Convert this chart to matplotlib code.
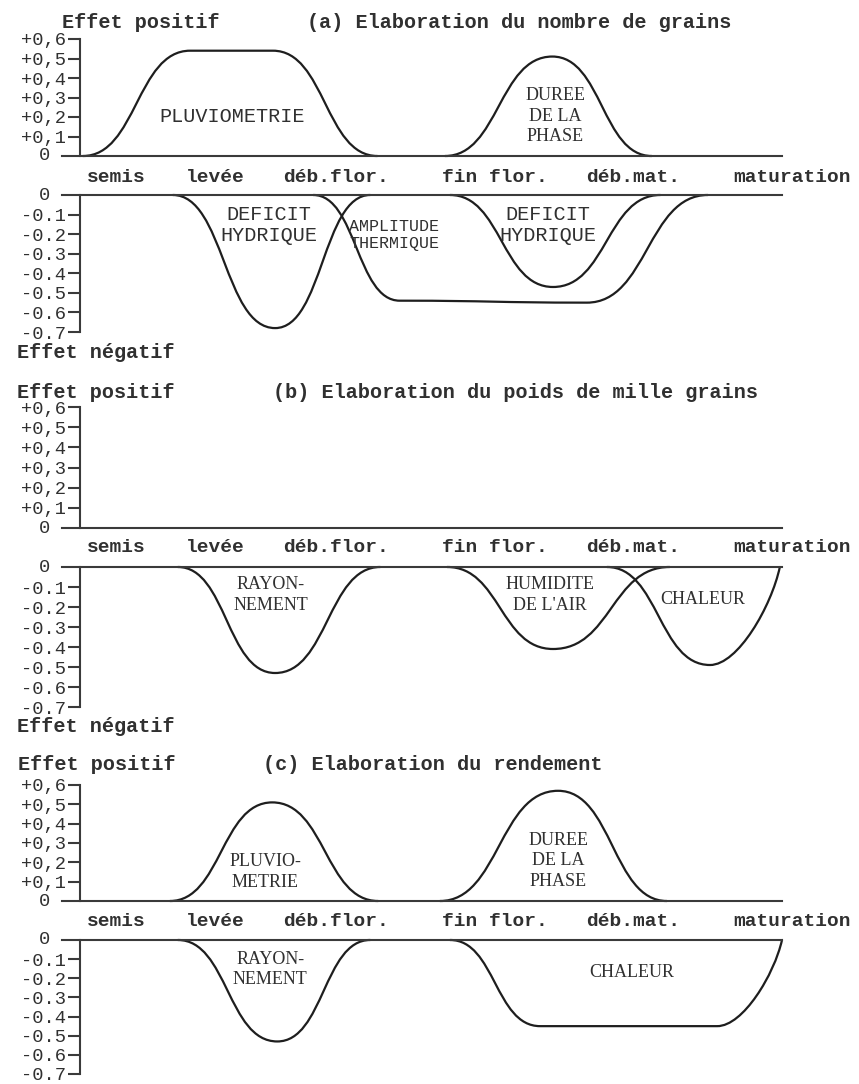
import matplotlib
matplotlib.use('Agg')
import matplotlib.pyplot as plt
from matplotlib.path import Path
from matplotlib.patches import PathPatch
from matplotlib.transforms import blended_transform_factory

plt.rcParams['font.family'] = ['Liberation Mono', 'DejaVu Sans Mono']

W, H = 859, 1084
ink = '#1e1e1e'
txt = '#303030'

# stades du cycle, sur une echelle de temps relative 0-100
stades = ['semis', 'levée', 'déb.flor.', 'fin flor.', 'déb.mat.', 'maturation']
stades_x = [7.6, 21.3, 38.1, 60.1, 79.3, 101.4]

pos_ticks = [0.1, 0.2, 0.3, 0.4, 0.5, 0.6]
pos_labels = ['+0,1', '+0,2', '+0,3', '+0,4', '+0,5', '+0,6']
neg_ticks = [-0.1, -0.2, -0.3, -0.4, -0.5, -0.6, -0.7]
neg_labels = ['-0.1', '-0.2', '-0.3', '-0.4', '-0.5', '-0.6', '-0.7']

titres = ['(a) Elaboration du nombre de grains',
          '(b) Elaboration du poids de mille grains',
          '(c) Elaboration du rendement']

# (a) nombre de grains
a_pluvio_x = [2.9, 17.8, 29.3, 43.8]
a_pluvio_y = [0, 0.54, 0.54, 0]
a_duree_x = [53.2, 68.1, 81.9]
a_duree_y = [0, 0.51, 0]
a_deficit1_x = [15.4, 29.6, 42.8]
a_deficit1_y = [0, -0.68, 0]
a_amplitude_x = [34.9, 46.9, 72.9, 89.7]
a_amplitude_y = [0, -0.54, -0.55, 0]
a_deficit2_x = [53.9, 68.2, 83.1]
a_deficit2_y = [0, -0.47, 0]

# (b) poids de mille grains
b_rayon_x = [16.1, 29.6, 44.2]
b_rayon_y = [0, -0.53, 0]
b_humid_x = [53.5, 68.2, 84.4]
b_humid_y = [0, -0.41, 0]
b_chaleur_x = [75.7, 90.0, 99.7]
b_chaleur_y = [0, -0.49, 0]

# (c) rendement
c_pluvio_x = [15.0, 29.2, 43.9]
c_pluvio_y = [0, 0.51, 0]
c_duree_x = [52.5, 68.9, 84.0]
c_duree_y = [0, 0.57, 0]
c_rayon_x = [16.1, 29.9, 42.8]
c_rayon_y = [0, -0.53, 0]
c_chaleur_x = [53.9, 66.4, 91.0, 100.0]
c_chaleur_y = [0, -0.45, -0.45, 0]


def fx(px):
    return px / W


def fy(py):
    return 1 - py / H


def courbe(ax, xs, ys, raide=False):
    # bezier, flat tangent at every knot (steep last segment if raide)
    verts = [(xs[0], ys[0])]
    codes = [Path.MOVETO]
    for i in range(len(xs) - 1):
        x0, y0, x1, y1 = xs[i], ys[i], xs[i + 1], ys[i + 1]
        dx = x1 - x0
        if raide and i == len(xs) - 2:
            c1 = (x0 + 0.4 * dx, y0)
            c2 = (x1 - 0.12 * dx, y1 + 0.4 * (y0 - y1))
        else:
            c1 = (x0 + 0.5 * dx, y0)
            c2 = (x1 - 0.5 * dx, y1)
        verts += [c1, c2, (x1, y1)]
        codes += [Path.CURVE4] * 3
    ax.add_patch(PathPatch(Path(verts, codes), fill=False, lw=1.6, ec=ink,
                           clip_on=False, capstyle='round'))


def axe(top, bottom, positif):
    ax = fig.add_axes([fx(62), fy(bottom), fx(720), (bottom - top) / H])
    ax.set_xlim(0, 100)
    ax.set_xticks([])
    ax.spines['right'].set_visible(False)
    ax.spines['left'].set_position(('data', 2.5))
    for s in ['left', 'top', 'bottom']:
        ax.spines[s].set_linewidth(1.5)
        ax.spines[s].set_color('#3a3a3a')
    if positif:
        ax.set_ylim(0, 0.6)
        ax.spines['top'].set_visible(False)
        ax.set_yticks(pos_ticks, pos_labels)
    else:
        ax.set_ylim(-0.7, 0)
        ax.spines['bottom'].set_visible(False)
        ax.set_yticks(neg_ticks, neg_labels)
    ax.tick_params(axis='y', direction='out', length=9, width=1.5,
                   pad=1, labelsize=13.5, colors='#3a3a3a', labelcolor=txt)
    ax.text(-2.5, 0, '0', ha='center', va='center', fontsize=13.5, color=txt,
            clip_on=False)
    ax.patch.set_alpha(0)
    return ax


def stades_row(ax, py):
    tr = blended_transform_factory(ax.transData, fig.transFigure)
    for s, x in zip(stades, stades_x):
        ax.text(x, fy(py), s, ha='center', va='center', fontsize=14,
                weight='bold', color=txt, transform=tr)


fig = plt.figure(figsize=(W / 100, H / 100), dpi=100)

mono = dict(fontsize=14.5, color=txt, ha='center', va='center', linespacing=1.15)
serif = dict(fontsize=13, color=txt, ha='center', va='center', linespacing=1.3,
             family='Liberation Serif')
head = dict(fontsize=14.5, weight='bold', color=txt, va='center', ha='left')

# ---- (a)
fig.text(fx(62), fy(22), 'Effet positif', **head)
fig.text(fx(307), fy(22), titres[0], **head)
ap = axe(39, 156, True)
courbe(ap, a_pluvio_x, a_pluvio_y)
courbe(ap, a_duree_x, a_duree_y)
ap.text(23.6, 0.2, 'PLUVIOMETRIE', **mono)
ap.text(68.5, 0.205, 'DUREE\nDE LA\nPHASE', **serif)
stades_row(ap, 178)
an = axe(195, 332, False)
courbe(an, a_deficit1_x, a_deficit1_y)
courbe(an, a_amplitude_x, a_amplitude_y)
courbe(an, a_deficit2_x, a_deficit2_y)
an.text(28.75, -0.153, 'DEFICIT\nHYDRIQUE', **mono)
an.text(46.1, -0.205, 'AMPLITUDE\nTHERMIQUE', **dict(mono, fontsize=12))
an.text(67.5, -0.153, 'DEFICIT\nHYDRIQUE', **mono)
fig.text(fx(17), fy(353), 'Effet négatif', **head)

# ---- (b)
fig.text(fx(17), fy(392), 'Effet positif', **head)
fig.text(fx(273), fy(392), titres[1], **head)
bp = axe(407, 528, True)
stades_row(bp, 548)
bn = axe(567, 707, False)
courbe(bn, b_rayon_x, b_rayon_y)
courbe(bn, b_humid_x, b_humid_y)
courbe(bn, b_chaleur_x, b_chaleur_y, raide=True)
bn.text(29.0, -0.139, 'RAYON-\nNEMENT', **serif)
bn.text(67.8, -0.139, "HUMIDITE\nDE L'AIR", **serif)
bn.text(89.0, -0.164, 'CHALEUR', **serif)
fig.text(fx(17), fy(727), 'Effet négatif', **head)

# ---- (c)
fig.text(fx(18), fy(765), 'Effet positif', **head)
fig.text(fx(263), fy(765), titres[2], **head)
cp = axe(785, 901, True)
courbe(cp, c_pluvio_x, c_pluvio_y)
courbe(cp, c_duree_x, c_duree_y)
cp.text(28.2, 0.15, 'PLUVIO-\nMETRIE', **serif)
cp.text(68.9, 0.207, 'DUREE\nDE LA\nPHASE', **serif)
stades_row(cp, 922)
cn = axe(940, 1074, False)
courbe(cn, c_rayon_x, c_rayon_y)
courbe(cn, c_chaleur_x, c_chaleur_y, raide=True)
cn.text(28.9, -0.154, 'RAYON-\nNEMENT', **serif)
cn.text(79.2, -0.17, 'CHALEUR', **serif)

fig.savefig('out.png', dpi=100)
